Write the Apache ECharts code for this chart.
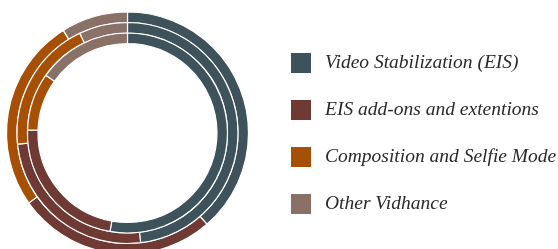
<!DOCTYPE html>
<html>
<head>
<meta charset="utf-8">
<script src="https://cdn.jsdelivr.net/npm/echarts@6/dist/echarts.min.js"></script>
<style>
  html, body { margin: 0; padding: 0; background: #fff; }
  #chart { width: 558px; height: 249px; }
</style>
</head>
<body>
<div id="chart"></div>
<script type="text/javascript">
    // segment names (legend order)
    var categories = ['Video Stabilization (EIS)', 'EIS add-ons and extentions', 'Composition and Selfie Mode', 'Other Vidhance'];
    // share per ring (percent)
    var outerRing = [38.6, 26.6, 25.9, 8.9];
    var middleRing = [48.1, 25.3, 19.5, 7.1];
    var innerRing = [52.8, 22.7, 9.3, 15.2];

    var colors = ['#3e525b', '#6f3a33', '#a84f06', '#8a7167'];

    function ring(values, radius) {
        return {
            type: 'pie',
            center: [127.5, 133],
            radius: radius,
            startAngle: 90,
            clockwise: true,
            silent: true,
            label: {show: false},
            labelLine: {show: false},
            itemStyle: {borderColor: '#fff', borderWidth: 1.2},
            data: categories.map(function (c, i) {
                return {name: c, value: values[i]};
            })
        };
    }

    var myChart = echarts.init(document.getElementById('chart'));
    var option = {
        animation: false,
        color: colors,
        legend: {
            orient: 'vertical',
            left: 284,
            top: 46,
            padding: 5,
            itemWidth: 22,
            itemHeight: 22,
            itemGap: 23,
            icon: 'rect',
            textStyle: {
                fontFamily: 'Liberation Serif',
                fontStyle: 'italic',
                fontSize: 19.5,
                lineHeight: 22,
                color: '#2a2a2a',
                padding: [0, 0, 0, 8]
            },
            data: categories
        },
        series: [
            ring(outerRing, [110.5, 121]),
            ring(middleRing, [100, 110.5]),
            ring(innerRing, [89.5, 100])
        ]
    };
    myChart.setOption(option);
</script>
</body>
</html>
